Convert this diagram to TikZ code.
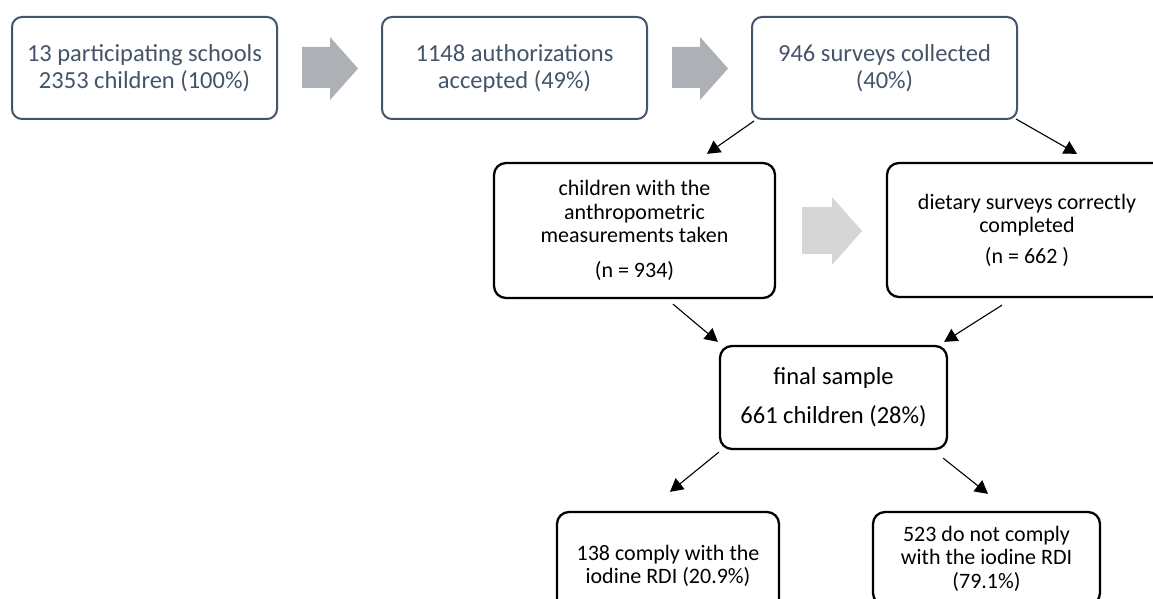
\documentclass[tikz,border=0pt]{standalone}
\usepackage{fontspec}
\setmainfont{Carlito}
\usetikzlibrary{calc,arrows.meta}
\definecolor{slate}{HTML}{44546A}
\definecolor{arrgray}{HTML}{ADB0B5}
\definecolor{arrlight}{HTML}{D6D6D6}
\tikzset{
  topbox/.style={draw=slate, line width=2pt, rounded corners=10pt, text=slate,
    minimum width=265pt, minimum height=102pt, inner sep=0pt, align=center,
    font=\fontsize{24.5}{27}\selectfont},
  lowbox/.style={draw=black, line width=2.3pt, rounded corners=12pt, text=black,
    inner sep=0pt, align=center, font=\fontsize{22}{23.5}\selectfont},
  finbox/.style={lowbox, font=\fontsize{24.5}{39}\selectfont},
  conn/.style={draw=black, line width=1.1pt, -{Triangle[length=13pt,width=14pt]}},
}
\begin{document}
\begin{tikzpicture}[x=1pt,y=-1pt]
\path[use as bounding box] (0,0) rectangle (1153,599);
\clip (0,0) rectangle (1153,599);
\fill[white] (0,0) rectangle (1153,599);

\node[topbox] (b1) at (144.5,68) {13 participating schools\\2353 children (100\%)};
\node[topbox] (b2) at (514.5,68) {1148 authorizations\\accepted (49\%)};
\node[topbox] (b3) at (884.5,68) {946 surveys collected\\(40\%)};

\fill[arrgray] (302,47) -- (330,47) -- (330,37) -- (358,68.5) -- (330,100) -- (330,88) -- (302,88) -- cycle;
\fill[arrgray] (672,47) -- (700,47) -- (700,37) -- (728,68.5) -- (700,100) -- (700,88) -- (672,88) -- cycle;

\node[lowbox, minimum width=281pt, minimum height=135pt] (b4) at (634.5,230.5)
  {children with the\\anthropometric\\measurements taken\\[11.5pt](n = 934)};
\node[lowbox, minimum width=280pt, minimum height=134pt] (b5) at (1027,230)
  {dietary surveys correctly\\completed\\[7pt](n = 662 )};

\fill[arrlight] (802,207) -- (832,207) -- (832,197) -- (862,231) -- (832,265) -- (832,254) -- (802,254) -- cycle;

\node[finbox, minimum width=227pt, minimum height=103pt] (fin) at (833.5,397.5)
  {final sample\\661 children (28\%)};

\node[lowbox, minimum width=222pt, minimum height=108pt] (bl) at (668,566)
  {138 comply with the\\iodine RDI (20.9\%)};
\node[lowbox, minimum width=227pt, minimum height=93pt] (br) at (986.5,558.5)
  {523 do not comply\\with the iodine RDI\\(79.1\%)};

\draw[conn] ($(b3.south west)+(3,1)$) -- ($(b4.north)+(72.5,-8)$);
\draw[conn] ($(b3.south east)+(-2,-1)$) -- ($(b5.north)+(50,-8)$);
\draw[conn] ($(b4.south)+(38.5,5)$) -- ($(fin.north west)+(-1,-3)$);
\draw[conn] ($(b5.south)+(-25,7)$) -- ($(fin.north east)+(-4,-3)$);
\draw[conn] ($(fin.south west)+(0,2)$) -- ($(bl.north)+(2,-19)$);
\draw[conn] ($(fin.south east)+(-5,8)$) -- ($(br.north)+(1.5,-17)$);
\end{tikzpicture}
\end{document}
